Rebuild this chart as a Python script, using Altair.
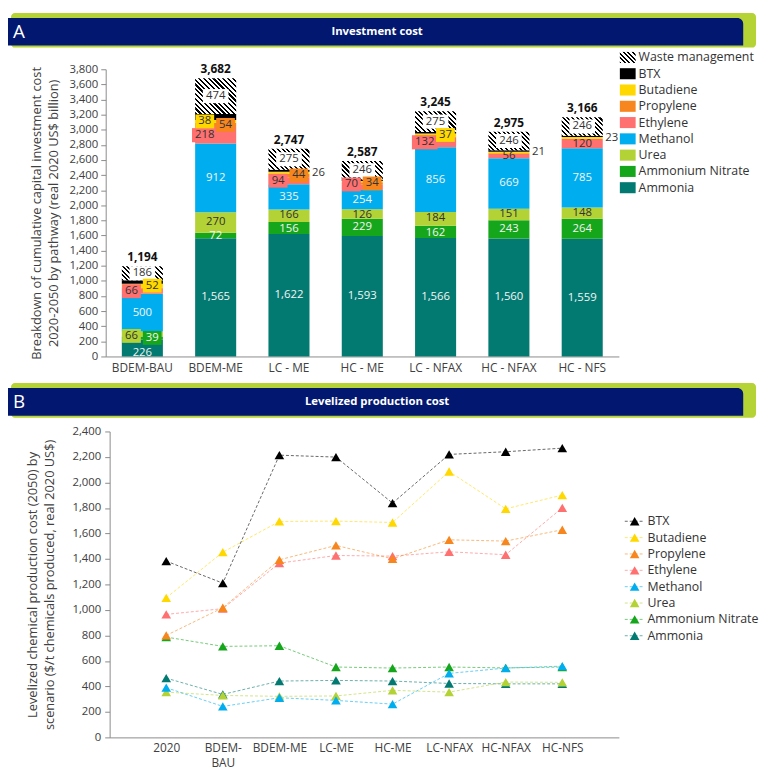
import altair as alt
import pandas as pd

# ---------------- data ----------------
panel_letters = ["A", "B"]
panel_titles = ["Investment cost", "Levelized production cost"]

scenarios_a = ["BDEM-BAU", "BDEM-ME", "LC - ME", "HC - ME", "LC - NFAX", "HC - NFAX", "HC - NFS"]
series_a = ["Ammonia", "Ammonium Nitrate", "Urea", "Methanol", "Ethylene",
            "Propylene", "Butadiene", "BTX", "Waste management"]
ammonia = [226, 1565, 1622, 1593, 1566, 1560, 1559]
ammonium_nitrate = [39, 72, 156, 229, 162, 243, 264]
urea = [66, 270, 166, 126, 184, 151, 148]
methanol = [500, 912, 335, 254, 856, 669, 785]
ethylene = [66, 218, 94, 70, 132, 56, 120]
propylene = [14, 54, 44, 34, 12, 10, 6]
butadiene = [52, 38, 26, 15, 37, 21, 23]
btx = [45, 79, 29, 20, 21, 19, 15]
waste_management = [186, 474, 275, 246, 275, 246, 246]
totals_a = [1194, 3682, 2747, 2587, 3245, 2975, 3166]
yticks_a = list(range(0, 3801, 200))
ytitle_a = ["Breakdown of cumulative capital investment cost",
            "2020-2050 by pathway (real 2020 US$ billion)"]

scenarios_b = ["2020", "BDEM-BAU", "BDEM-ME", "LC-ME", "HC-ME", "LC-NFAX", "HC-NFAX", "HC-NFS"]
series_b = ["BTX", "Butadiene", "Propylene", "Ethylene", "Methanol", "Urea",
            "Ammonium Nitrate", "Ammonia"]
cost_btx = [1383, 1210, 2214, 2199, 1838, 2220, 2241, 2269]
cost_butadiene = [1095, 1453, 1694, 1697, 1686, 2086, 1793, 1901]
cost_propylene = [800, 1017, 1393, 1506, 1401, 1550, 1540, 1629]
cost_ethylene = [965, 1010, 1367, 1427, 1422, 1456, 1433, 1801]
cost_methanol = [390, 243, 311, 290, 261, 502, 544, 559]
cost_urea = [355, 329, 322, 325, 369, 355, 434, 432]
cost_ammonium_nitrate = [787, 714, 719, 552, 544, 552, 545, 552]
cost_ammonia = [465, 337, 442, 447, 442, 423, 420, 420]
yticks_b = list(range(0, 2401, 200))
ytitle_b = ["Levelized chemical production cost (2050) by",
            "scenario ($/t chemicals produced, real 2020 US$)"]

# ---------------- style ----------------
FONT = "Open Sans"
NAVY = "#021770"
LIME = "#B5D334"
TXT = "#404040"
AXIS = "#8a8a8a"
color_map = {
    "Ammonia": "#037A71", "Ammonium Nitrate": "#16A61C", "Urea": "#B3D235",
    "Methanol": "#00AEEF", "Ethylene": "#FF7070", "Propylene": "#F7861E",
    "Butadiene": "#FFD800", "BTX": "#000000", "Waste management": "#8a8a8a",
}
HEADER_W = 758
W_A, H_A = 520, 291
W_B, H_B = 516, 310
BAR_PAD = 0.44
bar_w = W_A / len(scenarios_a) * (1 - BAR_PAD)
LABEL_SIZE = 11.5


def hatch(w, h, period=3.4, black=0.45):
    n = max(2, int(round((w + h) / (2 ** 0.5 * period))))
    d = w * w + h * h
    stops = []
    for k in range(n):
        a, b, c = k / n, (k + black) / n, (k + 1) / n
        stops += [{"offset": a, "color": "#000000"}, {"offset": b, "color": "#000000"},
                  {"offset": b, "color": "#ffffff"}, {"offset": c, "color": "#ffffff"}]
    return {"gradient": "linear", "x1": 0, "y1": 1,
            "x2": w * (w + h) / d, "y2": 1 - h * (w + h) / d, "stops": stops}


# ---------------- panel A table ----------------
values_a = {"Ammonia": ammonia, "Ammonium Nitrate": ammonium_nitrate, "Urea": urea,
            "Methanol": methanol, "Ethylene": ethylene, "Propylene": propylene,
            "Butadiene": butadiene, "BTX": btx, "Waste management": waste_management}

left_labels = {("BDEM-BAU", "Urea"), ("BDEM-BAU", "Ethylene"), ("BDEM-ME", "Ethylene"),
               ("BDEM-ME", "Butadiene"), ("LC - ME", "Ethylene"), ("HC - ME", "Ethylene"),
               ("LC - NFAX", "Ethylene")}
right_labels = {("BDEM-BAU", "Ammonium Nitrate"), ("BDEM-BAU", "Butadiene"),
                ("BDEM-ME", "Propylene"), ("LC - ME", "Propylene"), ("HC - ME", "Propylene"),
                ("LC - NFAX", "Butadiene")}
outside_labels = {("LC - ME", "Butadiene"), ("HC - NFAX", "Butadiene"), ("HC - NFS", "Butadiene")}
center_series = {"Ammonia", "Ammonium Nitrate", "Urea", "Methanol", "Ethylene", "Waste management"}
side_dx = {"center": 0, "left": -11, "right": 10, "outside": 30, "none": 0}
label_dy = {("BDEM-BAU", "Ammonia"): 5, ("BDEM-BAU", "Urea"): 2,
            ("BDEM-ME", "Ammonium Nitrate"): 1, ("BDEM-ME", "Urea"): -1,
            ("LC - ME", "Ammonium Nitrate"): 1, ("LC - ME", "Urea"): -1,
            ("HC - ME", "Urea"): 1, ("HC - ME", "Ethylene"): -3,
            ("LC - NFAX", "Ammonium Nitrate"): 1, ("LC - NFAX", "Urea"): -1}

rows = []
for i, sc in enumerate(scenarios_a):
    base = 0
    for s in series_a:
        v = values_a[s][i]
        key = (sc, s)
        if key in left_labels:
            pos = "left"
        elif key in right_labels:
            pos = "right"
        elif key in outside_labels:
            pos = "outside"
        elif s in center_series:
            pos = "center"
        else:
            pos = "none"
        rows.append({"scenario": sc, "series": s, "value": v, "y0": base,
                     "y1": base + v, "mid": base + v / 2, "pos": pos,
                     "place": f"{side_dx[pos]}_{label_dy.get(key, 0)}"})
        base += v
df_a = pd.DataFrame(rows)
df_tot = pd.DataFrame({"scenario": scenarios_a, "total": totals_a})
df_leg_a = pd.DataFrame({"series": list(reversed(series_a))})

x_a = alt.X("scenario:N", sort=scenarios_a, scale=alt.Scale(paddingInner=BAR_PAD),
            axis=alt.Axis(title=None, ticks=False, labelAngle=0, labelPadding=6,
                          labelFontSize=12))
ysc_a = alt.Scale(domain=[0, 3800], nice=False)
yax_a = alt.Axis(values=yticks_a, format=",.0f", title=ytitle_a, labelFontSize=11.5,
                 tickSize=5, labelPadding=3, titlePadding=9, titleLineHeight=17)
color_a = alt.Color("series:N", scale=alt.Scale(domain=series_a,
                    range=[color_map[s] for s in series_a]), legend=None)

bars = alt.Chart(df_a).transform_filter("datum.series !== 'Waste management'").mark_bar().encode(
    x=x_a, y=alt.Y("y0:Q", scale=ysc_a, stack=None, axis=yax_a), y2="y1:Q", color=color_a)

conds = []
for sc, v in zip(scenarios_a, waste_management):
    conds.append({"test": f"datum.scenario === '{sc}'", "value": hatch(bar_w, v * H_A / 3800)})
waste = alt.Chart(df_a).transform_filter("datum.series === 'Waste management'").mark_bar().encode(
    x=x_a, y=alt.Y("y0:Q", scale=ysc_a, stack=None, axis=yax_a), y2="y1:Q",
    fill=alt.FillValue(value="#8a8a8a", condition=conds))

light_test = "datum.series === 'Ammonia' || datum.series === 'Ammonium Nitrate' || datum.series === 'Methanol'"
y_mid = alt.Y("mid:Q", scale=ysc_a, stack=None, axis=yax_a)

BOX3 = "M-1,-0.55H1V0.55H-1Z"
BOX2 = "M-1,-0.74H1V0.74H-1Z"
box_layers = [
    alt.Chart(df_a).transform_filter("datum.series === 'Waste management'").mark_point(
        shape=BOX3, size=676, filled=True, opacity=1, color="#ffffff").encode(x=x_a, y=y_mid)
]
labels = []
for place in sorted(df_a.loc[df_a["pos"] != "none", "place"].unique()):
    dx, dy = (float(t) for t in place.split("_"))
    if dx in (-11, 10):
        for cond, shp, sz in [("datum.value >= 100", BOX3, 676), ("datum.value < 100", BOX2, 361)]:
            box_layers.append(
                alt.Chart(df_a).transform_filter(
                    f"datum.place === '{place}' && datum.pos !== 'none' && {cond}").mark_point(
                    shape=shp, size=sz, filled=True, opacity=1, xOffset=dx, yOffset=dy).encode(
                    x=x_a, y=y_mid, color=color_a))
    labels.append(
        alt.Chart(df_a).transform_filter(
            f"datum.place === '{place}' && datum.pos !== 'none'").mark_text(
            dx=dx, dy=dy, fontSize=LABEL_SIZE, font=FONT).encode(
            x=x_a, y=y_mid, text=alt.Text("value:Q", format=",.0f"),
            fill=alt.condition(light_test, alt.value("#f4f4f4"), alt.value("#333333"))))

totals = alt.Chart(df_tot).mark_text(dy=-9, fontSize=12, fontWeight="bold", font=FONT,
                                     color="#111111").encode(
    x=x_a, y=alt.Y("total:Q", scale=ysc_a, axis=yax_a), text=alt.Text("total:Q", format=",.0f"))

RECT_PATH = "M-1,-0.7H1V0.7H-1Z"
y_leg_a = alt.Y("series:N", sort=list(reversed(series_a)),
                scale=alt.Scale(type="point", range=[-12, 120], padding=0), axis=None)
leg_sq = alt.Chart(df_leg_a).mark_point(shape=RECT_PATH, size=256, filled=True, opacity=1).encode(
    x=alt.value(W_A + 9), y=y_leg_a,
    color=alt.condition("datum.series === 'Waste management'", alt.value(hatch(16, 11.2, 3.4)),
                        color_a))
leg_tx = alt.Chart(df_leg_a).mark_text(align="left", fontSize=12.5, font=FONT, color="#333333").encode(
    x=alt.value(W_A + 20), y=y_leg_a, text="series:N")

plot_a = alt.layer(alt.layer(bars, waste, *box_layers, *labels, totals),
                   alt.layer(leg_sq, leg_tx)).resolve_scale(y="independent").properties(
    width=W_A, height=H_A)

# ---------------- panel B table ----------------
values_b = {"BTX": cost_btx, "Butadiene": cost_butadiene, "Propylene": cost_propylene,
            "Ethylene": cost_ethylene, "Methanol": cost_methanol, "Urea": cost_urea,
            "Ammonium Nitrate": cost_ammonium_nitrate, "Ammonia": cost_ammonia}
rows_b = []
for s in reversed(series_b):
    for j, sc in enumerate(scenarios_b):
        rows_b.append({"series": s, "scenario": sc, "idx": j, "value": values_b[s][j]})
df_b = pd.DataFrame(rows_b)
df_leg_b = pd.DataFrame({"series": series_b})

x_b = alt.X("scenario:N", sort=scenarios_b, scale=alt.Scale(type="point", padding=1),
            axis=alt.Axis(title=None, ticks=False, labelAngle=0, labelPadding=5,
                          labelFontSize=12, labelLineHeight=16,
                          labelExpr="datum.value === 'BDEM-BAU' ? ['BDEM-', 'BAU'] : datum.label"))
y_b = alt.Y("value:Q", scale=alt.Scale(domain=[0, 2400], nice=False),
            axis=alt.Axis(values=yticks_b, format=",.0f", title=ytitle_b, labelFontSize=11.5,
                          tickSize=5, labelPadding=4, titlePadding=16, titleLineHeight=17))
color_b = alt.Color("series:N", scale=alt.Scale(domain=series_b,
                    range=[color_map[s] for s in series_b]), legend=None)

lines = alt.Chart(df_b).mark_line(strokeDash=[3, 2], strokeWidth=1, opacity=0.6).encode(
    x=x_b, y=y_b, color=color_b, order="idx:Q")
pts = alt.Chart(df_b).mark_point(shape="triangle-up", filled=True, size=95, opacity=1).encode(
    x=x_b, y=y_b, color=color_b)

leg_top = 91
y_leg_b = alt.Y("series:N", sort=series_b,
                scale=alt.Scale(type="point", range=[leg_top, leg_top + 116], padding=0), axis=None)
leg_rule = alt.Chart(df_leg_b).mark_rule(strokeDash=[3, 2], strokeWidth=1, opacity=0.6).encode(
    x=alt.value(W_B + 6), x2=alt.value(W_B + 26), y=y_leg_b, color=color_b)
leg_tri = alt.Chart(df_leg_b).mark_point(shape="triangle-up", filled=True, size=95, opacity=1).encode(
    x=alt.value(W_B + 16), y=y_leg_b, color=color_b)
leg_txt = alt.Chart(df_leg_b).mark_text(align="left", fontSize=12.5, font=FONT, color="#333333").encode(
    x=alt.value(W_B + 29), y=y_leg_b, text="series:N")

plot_b = alt.layer(alt.layer(lines, pts),
                   alt.layer(leg_rule, leg_tri, leg_txt)).resolve_scale(y="independent").properties(
    width=W_B, height=H_B)


# ---------------- headers ----------------
def header(letter, title, top, height):
    base = alt.Chart(pd.DataFrame({"k": [0]}))
    lime = base.mark_rect(color=LIME, cornerRadius=4).encode(
        x=alt.value(3), x2=alt.value(HEADER_W), y=alt.value(top), y2=alt.value(top + 35))
    navy = base.mark_rect(color=NAVY, cornerRadiusTopRight=6).encode(
        x=alt.value(0), x2=alt.value(HEADER_W - 13), y=alt.value(top + 5), y2=alt.value(top + 33))
    let = base.mark_text(align="left", baseline="middle", color="white", fontSize=19, font=FONT).encode(
        x=alt.value(5), y=alt.value(top + 19), text=alt.value(letter))
    tit = base.mark_text(align="center", baseline="middle", color="white", fontSize=11.5,
                         fontWeight="bold", font=FONT).encode(
        x=alt.value(374), y=alt.value(top + 19), text=alt.value(title))
    return alt.layer(lime, navy, let, tit).properties(width=HEADER_W, height=height)


def spacer(w):
    return alt.Chart(pd.DataFrame({"k": [0]})).mark_rect(opacity=0).encode(
        x=alt.value(0), x2=alt.value(w), y=alt.value(0), y2=alt.value(1)).properties(width=w, height=1)


row_a = alt.hconcat(spacer(22), plot_a, spacing=0)
row_b = alt.hconcat(spacer(18), plot_b, spacing=0)

chart = alt.vconcat(
    header(panel_letters[0], panel_titles[0], 0, 37),
    row_a,
    header(panel_letters[1], panel_titles[1], 8, 49),
    row_b,
    spacing=2,
    padding=0,
).configure_view(stroke=None).configure_axis(
    labelFont=FONT, titleFont=FONT, labelColor=TXT, titleColor=TXT, domainColor=AXIS,
    tickColor=AXIS, grid=False, titleFontWeight="normal", titleFontSize=13,
).configure_concat(spacing=2)

chart.save("out.html", embed_options={"renderer": "svg", "actions": False})
